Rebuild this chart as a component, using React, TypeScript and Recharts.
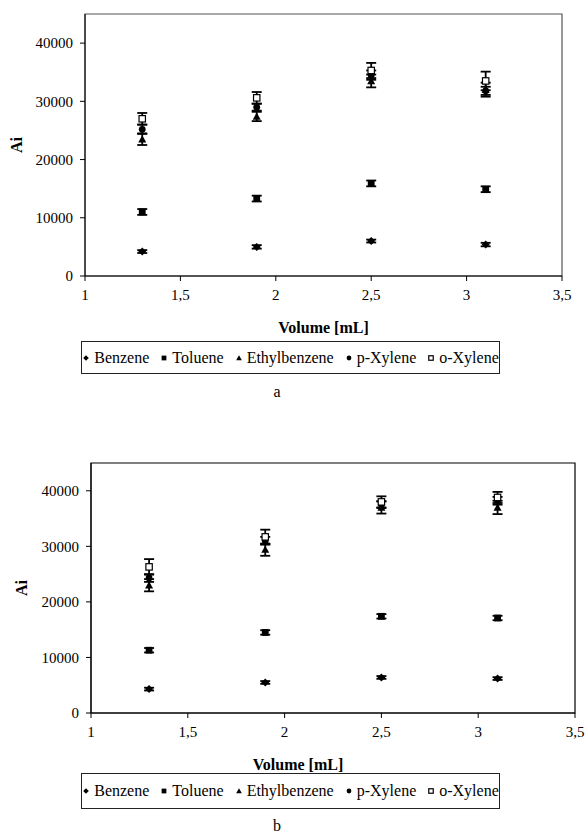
import React from "react";
import { ScatterChart, Scatter, XAxis, YAxis, ErrorBar, ReferenceArea, Label } from "recharts";

const SERIF = "'Liberation Serif', 'Times New Roman', serif";

const volumes = [1.3, 1.9, 2.5, 3.1];
const xTicks = [1, 1.5, 2, 2.5, 3, 3.5];
const yTicks = [0, 10000, 20000, 30000, 40000];
const seriesNames = ["Benzene", "Toluene", "Ethylbenzene", "p-Xylene", "o-Xylene"];

// panel a
const benzeneA = [4200, 5000, 6000, 5400];
const benzeneAErr = [250, 300, 250, 300];
const tolueneA = [11000, 13300, 15900, 14900];
const tolueneAErr = [500, 500, 500, 500];
const ethylA = [23500, 27400, 33500, 32000];
const ethylAErr = [1000, 800, 1100, 1200];
const pXyleneA = [25200, 29000, 34500, 31800];
const pXyleneAErr = [800, 600, 800, 700];
const oXyleneA = [27000, 30600, 35300, 33500];
const oXyleneAErr = [1000, 1000, 1300, 1600];

// panel b
const benzeneB = [4300, 5500, 6400, 6200];
const benzeneBErr = [250, 250, 250, 250];
const tolueneB = [11300, 14500, 17400, 17100];
const tolueneBErr = [400, 400, 400, 400];
const ethylB = [23000, 29400, 37000, 37000];
const ethylBErr = [1100, 1100, 1100, 1200];
const pXyleneB = [24300, 31000, 37500, 38200];
const pXyleneBErr = [700, 700, 600, 700];
const oXyleneB = [26300, 31700, 38000, 38800];
const oXyleneBErr = [1400, 1300, 1000, 1000];

type Kind = "diamond" | "square" | "triangle" | "circle" | "open";
const kinds: Kind[] = ["diamond", "square", "triangle", "circle", "open"];

const toPoints = (vals: number[], errs: number[]) => volumes.map((x, i) => ({ x, y: vals[i], err: errs[i] }));

function Marker({ kind, cx, cy, s = 4 }: { kind: Kind; cx: number; cy: number; s?: number }) {
  if (kind === "diamond")
    return <polygon points={`${cx},${cy - s} ${cx + s},${cy} ${cx},${cy + s} ${cx - s},${cy}`} fill="#000" />;
  if (kind === "square") return <rect x={cx - s * 0.85} y={cy - s * 0.85} width={s * 1.7} height={s * 1.7} fill="#000" />;
  if (kind === "triangle")
    return <polygon points={`${cx},${cy - s} ${cx + s},${cy + s * 0.8} ${cx - s},${cy + s * 0.8}`} fill="#000" />;
  if (kind === "circle") return <circle cx={cx} cy={cy} r={s * 0.85} fill="#000" />;
  return <rect x={cx - s * 0.8} y={cy - s * 0.8} width={s * 1.6} height={s * 1.6} fill="#fff" stroke="#000" strokeWidth={1.2} />;
}

const fmt = (v: number) => String(v).replace(".", ",");

type PanelProps = {
  top: number;
  yAxisWidth: number;
  margin: { top: number; right: number; left: number; bottom: number };
  series: { vals: number[]; errs: number[] }[];
  titleShift: number;
  aiX: number;
  borderColor: string;
};

function Panel({ top, yAxisWidth, margin, series, titleShift, aiX, borderColor }: PanelProps) {
  return (
    <div style={{ position: "absolute", left: 0, top }}>
      <ScatterChart width={585} height={340} margin={margin}>
        <XAxis
          type="number"
          dataKey="x"
          domain={[1, 3.5]}
          ticks={xTicks}
          tickFormatter={fmt}
          height={60}
          tickSize={5}
          tickMargin={8}
          stroke="#000"
          tick={{ fill: "#000", fontSize: 15, fontFamily: SERIF }}
          allowDataOverflow
        >
          <Label
            content={(p: any) => (
              <text
                x={p.viewBox.x + p.viewBox.width / 2 + titleShift}
                y={p.viewBox.y + 57}
                textAnchor="middle"
                fontFamily={SERIF}
                fontWeight="bold"
                fontSize={16}
                fill="#000"
              >
                Volume [mL]
              </text>
            )}
          />
        </XAxis>
        <YAxis
          type="number"
          dataKey="y"
          domain={[0, 45000]}
          ticks={yTicks}
          width={yAxisWidth}
          tickSize={5}
          tickMargin={7}
          stroke="#000"
          tick={{ fill: "#000", fontSize: 15, fontFamily: SERIF }}
          allowDataOverflow
        >
          <Label
            content={(p: any) => (
              <text
                x={aiX}
                y={p.viewBox.y + p.viewBox.height / 2}
                transform={`rotate(-90, ${aiX}, ${p.viewBox.y + p.viewBox.height / 2})`}
                textAnchor="middle"
                dominantBaseline="central"
                fontFamily={SERIF}
                fontWeight="bold"
                fontSize={16}
                fill="#000"
              >
                Ai
              </text>
            )}
          />
        </YAxis>
        <ReferenceArea x1={1} x2={3.5} y1={0} y2={45000} fill="none" stroke={borderColor} strokeWidth={1.2} />
        {series.map((s, i) => (
          <Scatter
            key={seriesNames[i]}
            name={seriesNames[i]}
            data={toPoints(s.vals, s.errs)}
            isAnimationActive={false}
            shape={(p: any) => <Marker kind={kinds[i]} cx={p.cx} cy={p.cy} />}
          >
            <ErrorBar dataKey="err" direction="y" width={5} stroke="#000" strokeWidth={1.8} />
          </Scatter>
        ))}
      </ScatterChart>
    </div>
  );
}

function LegendBox({ top, height }: { top: number; height: number }) {
  return (
    <div
      style={{
        position: "absolute",
        left: 81,
        top,
        width: 417,
        height,
        border: "1px solid #222",
        display: "flex",
        alignItems: "center",
        justifyContent: "center",
        fontFamily: SERIF,
        fontSize: 16,
        color: "#000",
        whiteSpace: "nowrap",
      }}
    >
      {seriesNames.map((n, i) => (
        <span key={n} style={{ display: "flex", alignItems: "center", marginRight: i < 4 ? 11 : 0 }}>
          <svg width={8} height={8} style={{ marginRight: 4 }}>
            <Marker kind={kinds[i]} cx={4} cy={4} s={2.8} />
          </svg>
          {n}
        </span>
      ))}
    </div>
  );
}

const panelA = [
  { vals: benzeneA, errs: benzeneAErr },
  { vals: tolueneA, errs: tolueneAErr },
  { vals: ethylA, errs: ethylAErr },
  { vals: pXyleneA, errs: pXyleneAErr },
  { vals: oXyleneA, errs: oXyleneAErr },
];

const panelB = [
  { vals: benzeneB, errs: benzeneBErr },
  { vals: tolueneB, errs: tolueneBErr },
  { vals: ethylB, errs: ethylBErr },
  { vals: pXyleneB, errs: pXyleneBErr },
  { vals: oXyleneB, errs: oXyleneBErr },
];

const captionStyle: React.CSSProperties = {
  position: "absolute",
  left: 267,
  width: 20,
  textAlign: "center",
  fontFamily: SERIF,
  fontSize: 16,
  lineHeight: "16px",
};

export default function App() {
  return (
    <div style={{ position: "absolute", left: 0, top: 0, width: 585, height: 836, background: "#fff", overflow: "hidden" }}>
      <Panel
        top={0}
        yAxisWidth={85}
        margin={{ top: 14, right: 23, left: 0, bottom: 4 }}
        series={panelA}
        titleShift={0}
        aiX={16}
        borderColor="#555"
      />
      <LegendBox top={341} height={31} />
      <div style={{ ...captionStyle, top: 384 }}>a</div>
      <Panel
        top={440}
        yAxisWidth={91}
        margin={{ top: 23, right: 10, left: 0, bottom: 7 }}
        series={panelB}
        titleShift={-35}
        aiX={21}
        borderColor="#000"
      />
      <LegendBox top={773} height={34} />
      <div style={{ ...captionStyle, top: 818 }}>b</div>
    </div>
  );
}
